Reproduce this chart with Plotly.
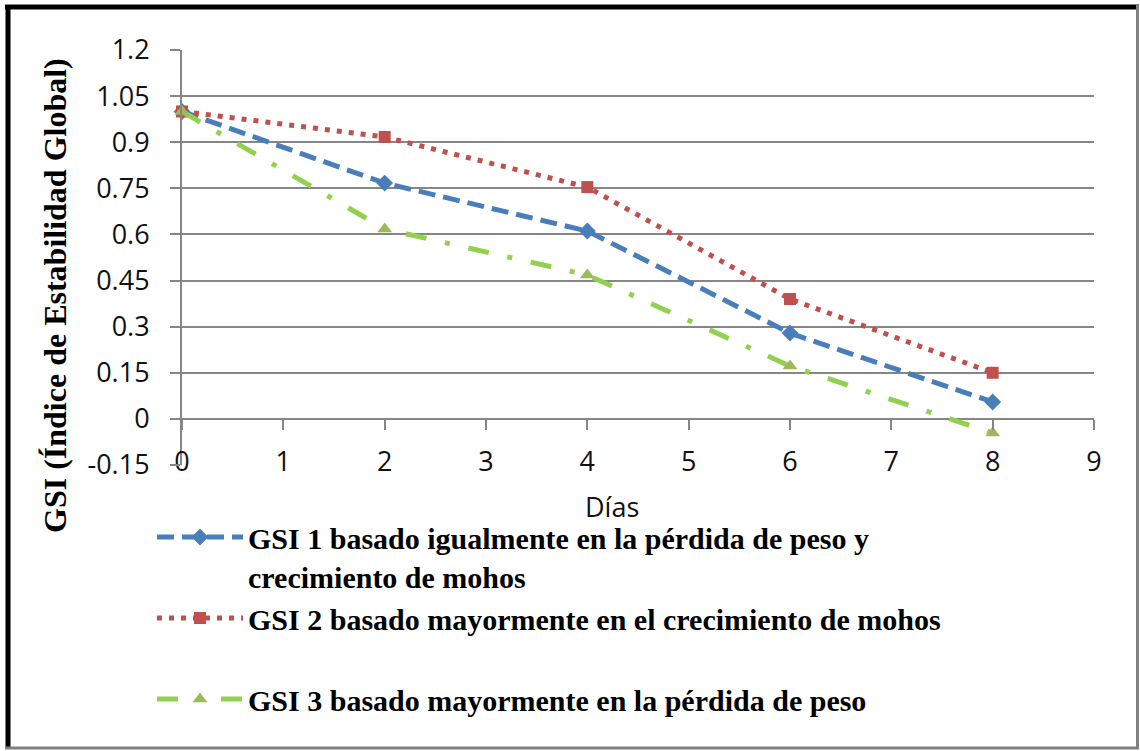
import plotly.graph_objects as go

# ---- data ----
dias = [0, 2, 4, 6, 8]
gsi1 = [1.0, 0.767, 0.611, 0.279, 0.055]
gsi2 = [1.0, 0.917, 0.754, 0.390, 0.150]
gsi3 = [1.0, 0.618, 0.468, 0.172, -0.046]
names = [
    "GSI 1 basado igualmente en la pérdida de peso y<br>crecimiento de mohos",
    "GSI 2 basado mayormente en el crecimiento de mohos<br> ",
    "GSI 3 basado mayormente en la pérdida de peso",
]
x_ticks = [0, 1, 2, 3, 4, 5, 6, 7, 8, 9]
y_ticks = [-0.15, 0, 0.15, 0.3, 0.45, 0.6, 0.75, 0.9, 1.05, 1.2]
y_labels = ["-0.15", "0", "0.15", "0.3", "0.45", "0.6", "0.75", "0.9", "1.05", "1.2"]
x_title = "Días"
y_title = "GSI (Índice de Estabilidad Global)"

# ---- layout geometry (pixels) ----
W, H = 1140, 751
L, R, T, B = 182, 46, 50, 286
PW, PH = W - L - R, H - T - B

def px(p):
    return (p - L) / PW

def py(p):
    return (H - B - p) / PH

GRID = "#868686"
SANS = "Open Sans"
SERIF = "Liberation Serif, Times New Roman, serif"

fig = go.Figure()
fig.add_trace(go.Scatter(
    x=dias, y=gsi1, name=names[0], mode="lines+markers",
    line=dict(color="#4A7EBB", width=5, dash="17px,8px"),
    marker=dict(symbol="diamond", size=13, color="#4A7EBB"),
    cliponaxis=False,
))
fig.add_trace(go.Scatter(
    x=dias, y=gsi2, name=names[1], mode="lines+markers",
    line=dict(color="#C0504D", width=5, dash="5px,7px"),
    marker=dict(symbol="square", size=12, color="#C0504D"),
    cliponaxis=False,
))
fig.add_trace(go.Scatter(
    x=dias, y=gsi3, name=names[2], mode="lines+markers",
    line=dict(color="#92D050", width=5, dash="21px,19px,5px,19px"),
    marker=dict(symbol="triangle-up", size=13, color="#9BBB59"),
    cliponaxis=False,
))
# carrier for the tick axis at y = 0
fig.add_trace(go.Scatter(x=[None], y=[None], xaxis="x2", showlegend=False,
                         hoverinfo="skip"))

y_min, y_max = y_ticks[0], y_ticks[-1]

fig.update_layout(
    width=W, height=H,
    margin=dict(l=L, r=R, t=T, b=B, autoexpand=False),
    paper_bgcolor="white", plot_bgcolor="white",
    showlegend=True,
    xaxis=dict(
        range=[x_ticks[0], x_ticks[-1]], tickvals=x_ticks,
        showgrid=False, zeroline=False, showline=False, ticks="",
        tickfont=dict(family=SANS, size=27, color="#111"),
        anchor="free", position=22 / PH,
    ),
    xaxis2=dict(
        range=[x_ticks[0], x_ticks[-1]], tickvals=x_ticks,
        overlaying="x", anchor="free", side="bottom",
        position=(0 - y_min) / (y_max - y_min),
        showgrid=False, zeroline=False, showline=False,
        showticklabels=False, ticks="outside", ticklen=10,
        tickwidth=2, tickcolor=GRID,
    ),
    yaxis=dict(
        range=[y_min, y_max], tickvals=y_ticks, ticktext=y_labels,
        showgrid=True, gridcolor=GRID, gridwidth=2,
        showline=True, linecolor=GRID, linewidth=2,
        ticks="outside", ticklen=10, tickwidth=2, tickcolor=GRID,
        zeroline=False,
        tickfont=dict(family=SANS, size=27, color="#111"),
        ticklabelstandoff=15,
    ),
    legend=dict(
        x=px(152), y=py(511), xanchor="left", yanchor="top",
        font=dict(family=SERIF, size=30, color="black", weight="bold"),
        bgcolor="rgba(0,0,0,0)", itemwidth=86, valign="top",
        tracegroupgap=0,
    ),
    annotations=[
        dict(text=x_title, xref="paper", yref="paper", x=px(612), y=py(506),
             xanchor="center", yanchor="middle",
             showarrow=False, font=dict(family=SANS, size=27, color="#111")),
        dict(text=y_title, xref="paper", yref="paper", x=px(55), y=py(296),
             xanchor="center", yanchor="middle",
             showarrow=False, textangle=-90,
             font=dict(family=SERIF, size=32, color="black", weight="bold")),
    ],
    shapes=[
        dict(type="line", xref="paper", yref="paper", x0=px(5), x1=px(1139),
             y0=py(7), y1=py(7), line=dict(color="black", width=5)),
        dict(type="line", xref="paper", yref="paper", x0=px(8), x1=px(8),
             y0=py(5), y1=py(749), line=dict(color="black", width=5)),
        dict(type="line", xref="paper", yref="paper", x0=px(1137.5), x1=px(1137.5),
             y0=py(5), y1=py(749), line=dict(color="#808080", width=3)),
        dict(type="line", xref="paper", yref="paper", x0=px(5), x1=px(1139),
             y0=py(748), y1=py(748), line=dict(color="#808080", width=3)),
    ],
)

fig.write_html("out.html")
